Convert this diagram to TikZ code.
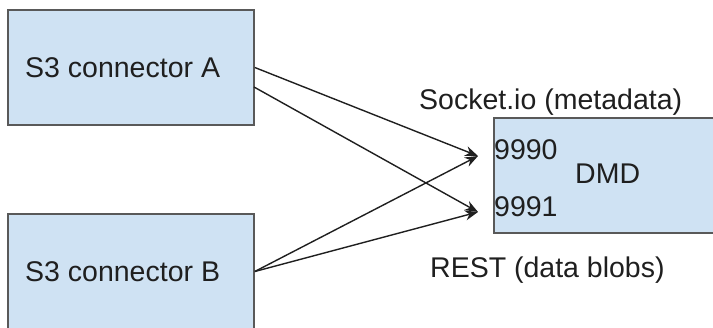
\documentclass[tikz,border=0pt]{standalone}
\usepackage{fontspec}
\setmainfont{Liberation Sans}
\usetikzlibrary{arrows.meta}
\definecolor{boxfill}{HTML}{CFE2F3}
\definecolor{boxline}{HTML}{595959}
\definecolor{wire}{HTML}{1F1F1F}
\tikzset{
  box/.style={draw=boxline, fill=boxfill, line width=1.6pt, rectangle, inner sep=0pt},
  lbl/.style={inner sep=0pt, anchor=base west, text=black!88, font=\fontsize{28.5}{34}\selectfont},
  arr/.style={draw=wire, line width=1.4pt, -{Stealth[length=13pt,width=10pt]}}
}
\begin{document}
\begin{tikzpicture}[x=1pt,y=-1pt]
  \useasboundingbox (0,0) rectangle (713,328);
  \clip (0,0) rectangle (713,328);
  % services
  \node[box, minimum width=246pt, minimum height=115pt] (A) at (131,67.5) {};
  \node[box, minimum width=246pt, minimum height=115pt] (B) at (131,271.5) {};
  \node[box, minimum width=246pt, minimum height=115pt] (D) at (617,175.5) {};
  % labels
  \node[lbl] (tA) at (25,78) {S3 connector A};
  \node[lbl] (tB) at (25,282) {S3 connector B};
  \node[lbl] (tS) at (419,110) {Socket.io (metadata)};
  \node[lbl] (tR) at (430,278) {REST (data blobs)};
  \node[lbl] (p0) at (494,160) {9990};
  \node[lbl] (p1) at (494,217) {9991};
  \node[lbl] (tD) at (575,184) {DMD};
  % ports
  \coordinate (in0) at (478,156);
  \coordinate (in1) at (478,212);
  \coordinate (a2) at (254,87);
  % connections
  \draw[arr] (A.east) -- (in0);
  \draw[arr] (a2) -- (in1);
  \draw[arr] (B.east) -- (in0);
  \draw[arr] (B.east) -- (in1);
\end{tikzpicture}
\end{document}
